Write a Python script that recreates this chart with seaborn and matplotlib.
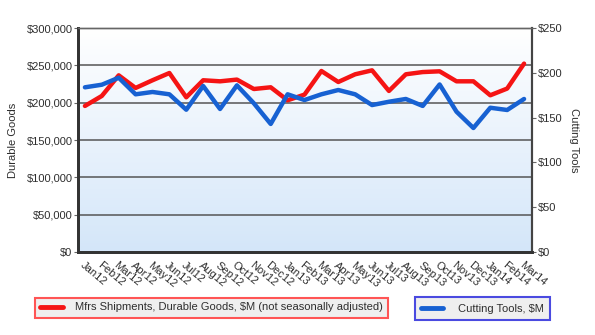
import numpy as np
import pandas as pd
import matplotlib
matplotlib.use("Agg")
import matplotlib.pyplot as plt
from matplotlib.colors import LinearSegmentedColormap
from matplotlib.lines import Line2D
import seaborn as sns

months = ["Jan12", "Feb12", "Mar12", "Apr12", "May12", "Jun12", "Jul12", "Aug12",
          "Sep12", "Oct12", "Nov12", "Dec12", "Jan13", "Feb13", "Mar13", "Apr13",
          "May13", "Jun13", "Jul13", "Aug13", "Sep13", "Oct13", "Nov13", "Dec13",
          "Jan14", "Feb14", "Mar14"]

# Manufacturers' shipments of durable goods, $M (left axis)
durable_goods = [195600, 209000, 236600, 219700, 230000, 239700, 207200, 230000,
                 228600, 230900, 218300, 220600, 203200, 210800, 242400, 227700,
                 238000, 243300, 215700, 238000, 241000, 242000, 228600, 228600,
                 209900, 218900, 252300]

# Cutting tool consumption, $M (right axis)
cutting_tools = [183.8, 186.7, 194.5, 176.0, 178.6, 176.0, 158.8, 185.3,
                 159.6, 186.0, 166.0, 142.9, 176.0, 169.6, 176.0, 180.8,
                 176.0, 164.0, 167.7, 170.8, 163.0, 187.0, 156.6, 138.4,
                 161.0, 158.5, 170.8]

left_ticks = [0, 50000, 100000, 150000, 200000, 250000, 300000]
right_ticks = [0, 50, 100, 150, 200, 250]

red_label = "Mfrs Shipments, Durable Goods, $M (not seasonally adjusted)"
blue_label = "Cutting Tools, $M"

df = pd.DataFrame({"idx": np.arange(len(months)), "month": months,
                   "durable": durable_goods, "tools": cutting_tools})

sns.set_theme(style="white")
plt.rcParams["font.family"] = ["Liberation Sans", "DejaVu Sans"]
plt.rcParams["font.size"] = 8

RED = "#f51414"
BLUE = "#1761d2"
TXT = "#2e2e2e"

fig = plt.figure(figsize=(5.95, 3.35), dpi=100)
ax = fig.add_axes([78 / 595, 1 - 252 / 335, (532 - 78) / 595, (252 - 28) / 335])
ax2 = ax.twinx()

xlim = (-0.41, len(months) - 1 + 0.47)

# vertical white-to-light-blue gradient behind the plot
cmap = LinearSegmentedColormap.from_list("bg", ["#ffffff", "#d4e6f9"])
ax.imshow(np.linspace(0, 1, 256).reshape(-1, 1), cmap=cmap, aspect="auto",
          extent=(xlim[0], xlim[1], 0, 300000), origin="upper", zorder=0)

for y in left_ticks[1:]:
    ax.axhline(y, color="#555555", lw=1.1, zorder=1)

sns.lineplot(data=df, x="idx", y="durable", ax=ax, color=RED, lw=3.2,
             zorder=3, legend=False)
sns.lineplot(data=df, x="idx", y="tools", ax=ax2, color=BLUE, lw=3.2,
             zorder=3, legend=False)

ax.set_xlim(*xlim)
ax.set_ylim(0, 300000)
ax2.set_ylim(0, 250)

ax.set_yticks(left_ticks)
ax.set_yticklabels([f"${v:,}" for v in left_ticks])
ax2.set_yticks(right_ticks)
ax2.set_yticklabels([f"${v}" for v in right_ticks])

ax.set_xticks(df["idx"])
ax.set_xticklabels(months, rotation=-40, ha="left", va="top",
                   rotation_mode="anchor")

ax.set_xlabel("")
ax.set_ylabel("Durable Goods", color=TXT, fontsize=8, labelpad=6)
ax2.set_ylabel("Cutting Tools", color=TXT, fontsize=8, rotation=-90,
               labelpad=12)

ax.tick_params(axis="y", length=3, width=0.8, color="#666666", colors=TXT,
               labelsize=8, pad=1)
ax.tick_params(axis="x", length=0, colors=TXT, labelsize=8, pad=6)
ax2.tick_params(axis="y", length=3, width=0.8, color="#666666", colors=TXT,
                labelsize=8, pad=1)

for a in (ax, ax2):
    a.spines["top"].set_color("#666666")
    a.spines["top"].set_linewidth(1.0)
    a.spines["left"].set_color("#333333")
    a.spines["left"].set_linewidth(2.0)
    a.spines["bottom"].set_color("#333333")
    a.spines["bottom"].set_linewidth(2.0)
    a.spines["right"].set_color("#444444")
    a.spines["right"].set_linewidth(1.5)
    a.grid(False)

# two separate legend boxes beneath the chart
leg1 = fig.legend(handles=[Line2D([], [], color=RED, lw=3.5)], labels=[red_label],
                  loc="center", bbox_to_anchor=(211.5 / 595, 1 - 307.5 / 335),
                  frameon=True, fancybox=False, fontsize=8, handlelength=2.0,
                  handletextpad=1.1, borderpad=0.45, labelcolor=TXT)
leg1.get_frame().set_edgecolor("#ff5555")
leg1.get_frame().set_linewidth(1.5)
leg1.get_frame().set_facecolor("#efefef")
leg1.get_frame().set_alpha(1)

leg2 = fig.legend(handles=[Line2D([], [], color=BLUE, lw=3.5)], labels=[blue_label],
                  loc="center", bbox_to_anchor=(482.5 / 595, 1 - 308.5 / 335),
                  frameon=True, fancybox=False, fontsize=8, handlelength=2.0,
                  handletextpad=1.4, borderpad=0.55, labelcolor=TXT)
leg2.get_frame().set_edgecolor("#4a4ae0")
leg2.get_frame().set_linewidth(1.5)
leg2.get_frame().set_facecolor("#efefef")
leg2.get_frame().set_alpha(1)

fig.savefig("out.png", dpi=100, facecolor="white")
